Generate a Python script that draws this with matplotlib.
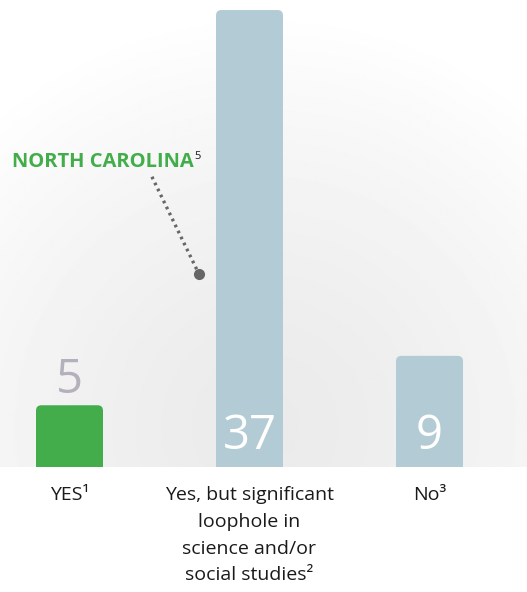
import numpy as np
import matplotlib
matplotlib.use('Agg')
import matplotlib.pyplot as plt
from matplotlib.patches import FancyBboxPatch

plt.rcParams['font.family'] = ['Open Sans', 'DejaVu Sans']

# data
categories = ['YES¹',
              'Yes, but significant\nloophole in\nscience and/or\nsocial studies²',
              'No³']
values = [5, 37, 9]
colors = ['#43ad4b', '#b3cbd5', '#b3cbd5']

W, H = 527, 592
fig = plt.figure(figsize=(W / 100, H / 100), dpi=100)
base_px = 125
ax = fig.add_axes([0, base_px / H, 1, (H - base_px) / H])
xmin, xmax = -69.5 / 180, (W - 69.5) / 180
ymax = (H - base_px) / 12.35
ax.set_xlim(xmin, xmax)
ax.set_ylim(0, ymax)

# soft radial background
gx, gy = np.meshgrid(np.linspace(0, W, 300), np.linspace(0, H - base_px, 300))
r = np.hypot(gx - 265, gy - 40) / 420
shade = 0.92 + 0.08 * np.clip(r, 0, 1) ** 1.5
ax.imshow(shade, extent=[xmin, xmax, 0, ymax], origin='lower', aspect='auto',
          cmap='gray', vmin=0, vmax=1, zorder=0)

width = 67 / 180
aspect = 180 / 12.35
for i, (v, c) in enumerate(zip(values, colors)):
    p = FancyBboxPatch((i - width / 2, -2), width, v + 2,
                       boxstyle='round,pad=0,rounding_size=0.03',
                       mutation_aspect=aspect, fc=c, ec='none', zorder=2)
    ax.add_patch(p)
    if v < 8:
        ax.text(i, v + 1.0, str(v), ha='center', va='baseline', fontsize=34,
                color='#b5b1bc', zorder=3)
    else:
        ax.text(i, 1.46, str(v), ha='center', va='baseline', fontsize=34,
                color='white', zorder=3)

ax.set_xticks(range(len(categories)))
ax.set_xticklabels(categories, fontsize=14, color='#1a1a1a', linespacing=1.62)
ax.tick_params(axis='x', length=0, pad=14)
ax.set_yticks([])
for s in ax.spines.values():
    s.set_visible(False)

# North Carolina callout
ax.plot([0.458, 0.71], [23.5, 15.9], color='#666666', lw=2.4,
        linestyle=(0, (0.8, 1.2)), zorder=3)
ax.plot([0.72], [15.6], 'o', color='#666666', ms=7, zorder=3)
nc = ax.text(-0.32, 24.3, 'NORTH CAROLINA', color='#43ad4b', fontsize=14.5,
             fontweight='bold', ha='left', va='baseline', zorder=3)
ax.annotate('5', xy=(1, 1), xycoords=nc, xytext=(0.5, 1),
            textcoords='offset points', color='#1a1a1a', fontsize=8,
            ha='left', va='top', zorder=3)

fig.savefig('out.png', dpi=100)
